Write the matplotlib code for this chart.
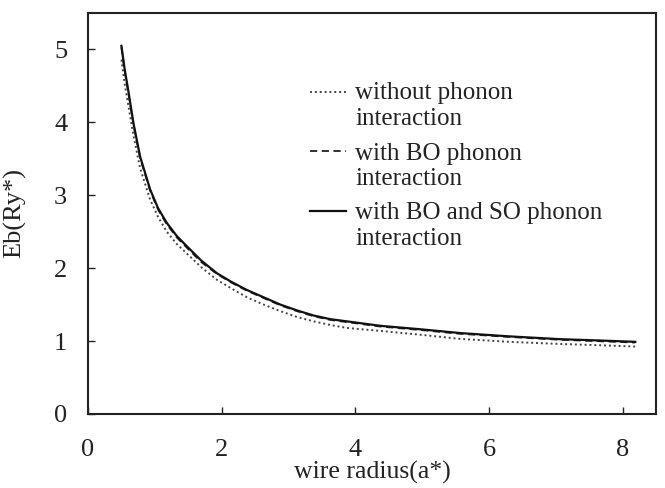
import matplotlib
matplotlib.use("Agg")
import matplotlib.pyplot as plt

radius = [0.5, 0.55, 0.6, 0.68, 0.78, 0.93, 1.05, 1.18, 1.33, 1.48, 1.7, 1.93, 2.15, 2.38, 2.63, 2.88,
          3.13, 3.38, 3.63, 3.88, 4.37, 5.0, 5.57, 6.3, 7.07, 7.6, 8.19]
eb_bo_so = [5.05, 4.72, 4.45, 3.99, 3.53, 3.08, 2.82, 2.62, 2.44, 2.30, 2.10, 1.93, 1.81, 1.70, 1.60, 1.50,
            1.42, 1.35, 1.30, 1.27, 1.21, 1.16, 1.11, 1.065, 1.026, 1.01, 0.99]
eb_bo = [5.03, 4.70, 4.43, 3.97, 3.51, 3.06, 2.80, 2.60, 2.42, 2.28, 2.08, 1.92, 1.80, 1.69, 1.59, 1.49,
         1.41, 1.34, 1.29, 1.26, 1.20, 1.15, 1.10, 1.057, 1.018, 1.00, 0.98]
eb_none = [4.86, 4.52, 4.25, 3.82, 3.37, 2.94, 2.70, 2.50, 2.33, 2.20, 2.01, 1.84, 1.72, 1.60, 1.50, 1.41,
           1.33, 1.27, 1.22, 1.18, 1.14, 1.085, 1.03, 0.99, 0.96, 0.945, 0.925]

labels = ["without phonon\ninteraction", "with BO phonon\ninteraction", "with BO and SO phonon\ninteraction"]
xticks = [0, 2, 4, 6, 8]
yticks = [0, 1, 2, 3, 4, 5]

plt.rcParams['font.family'] = ['Liberation Serif', 'DejaVu Serif']

W, H = 665, 488
fig = plt.figure(figsize=(W / 100, H / 100), dpi=100)
L, R, T, B = 88, 656, 13, 414
ax = fig.add_axes([L / W, 1 - B / H, (R - L) / W, (B - T) / H])

styles = [dict(color='#444444', lw=1.4, linestyle=(0, (1.0, 1.5))),
          dict(color='#222222', lw=1.3, linestyle=(0, (4, 2.5))),
          dict(color='#111111', lw=1.6, linestyle='-')]

ax.plot(radius, eb_none, **styles[0])
ax.plot(radius, eb_bo, **styles[1])
ax.plot(radius, eb_bo_so, **styles[2])

ax.set_xlim(0, 8.5)
ax.set_ylim(0, 5.5)
ax.set_xticks(xticks)
ax.set_yticks(yticks)
ax.tick_params(direction='in', length=5, width=1, labelsize=19, colors='#222222')
ax.tick_params(axis='x', pad=18)
ax.tick_params(axis='y', pad=15)
for s in ax.spines.values():
    s.set_linewidth(1.5)
    s.set_color('#222222')

ax.set_xlabel("wire radius(a*)", fontsize=18.5, color='#222222', labelpad=0)
ax.set_ylabel("Eb(Ry*)", fontsize=19, color='#222222', labelpad=20)

# manual legend (pixel layout converted to axes fraction)
def fx(px):
    return (px - L) / (R - L)

def fy(py):
    return (B - py) / (B - T)

handle_y = [92, 151, 211]
text_y = [[92, 118], [153, 178], [212, 238]]
for lab, st, hy, ty in zip(labels, styles, handle_y, text_y):
    ax.plot([fx(310), fx(346)], [fy(hy), fy(hy)], transform=ax.transAxes, **st)
    for line, yy in zip(lab.split("\n"), ty):
        ax.text(fx(355), fy(yy + 7), line, transform=ax.transAxes, fontsize=18,
                va='baseline', ha='left', color='#222222')

fig.savefig("out.png", dpi=100)
